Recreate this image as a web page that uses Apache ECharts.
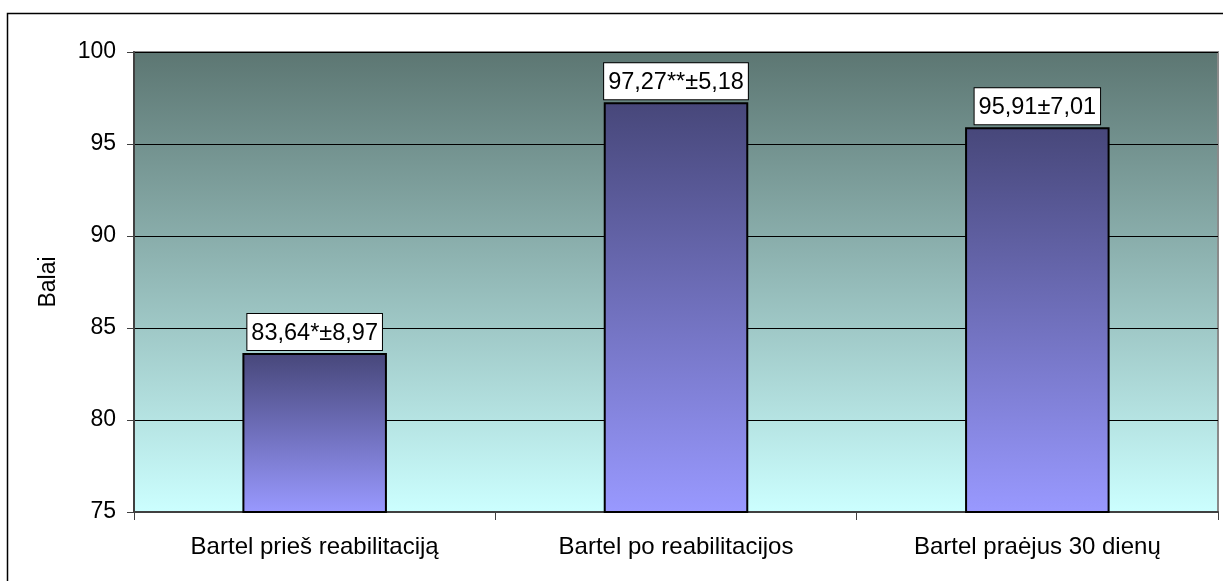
<!DOCTYPE html>
<html>
<head>
<meta charset="utf-8">
<script src="https://cdn.jsdelivr.net/npm/echarts@6/dist/echarts.min.js"></script>
<style>html,body{margin:0;padding:0;background:#fff;}#c{width:1223px;height:581px;}</style>
</head>
<body>
<div id="c"></div>
<script>
const categories = ['Bartel prieš reabilitaciją', 'Bartel po reabilitacijos', 'Bartel praėjus 30 dienų'];
const values = [83.64, 97.27, 95.91];
const valueLabels = ['83,64*±8,97', '97,27**±5,18', '95,91±7,01'];
const yTicks = [75, 80, 85, 90, 95, 100];
const yAxisName = 'Balai';

const chart = echarts.init(document.getElementById('c'));
const FONT = '"Liberation Sans", Arial, sans-serif';
chart.setOption({
  animation: false,
  backgroundColor: '#ffffff',
  graphic: [{
    type: 'rect', silent: true, z: 0,
    shape: { x: 7.5, y: 13.5, width: 1400, height: 800 },
    style: { fill: 'none', stroke: '#000', lineWidth: 1.5 }
  }],
  grid: {
    left: 134, right: 5, top: 52, bottom: 69,
    show: true, borderColor: '#8a8a8a', borderWidth: 2,
    backgroundColor: new echarts.graphic.LinearGradient(0, 0, 0, 1, [
      { offset: 0, color: '#5c7672' },
      { offset: 1, color: '#ccffff' }
    ])
  },
  xAxis: {
    type: 'category',
    data: categories,
    axisLine: { lineStyle: { color: '#404040', width: 2 } },
    axisTick: { show: true, alignWithLabel: false, length: 8, lineStyle: { color: '#404040', width: 1 } },
    axisLabel: { color: '#000', fontFamily: FONT, fontSize: 24, margin: 23 }
  },
  yAxis: {
    type: 'value',
    min: yTicks[0], max: yTicks[yTicks.length - 1], interval: 5,
    name: yAxisName, nameLocation: 'middle', nameGap: 74, nameRotate: 90,
    nameTextStyle: { color: '#000', fontFamily: FONT, fontSize: 23 },
    axisLine: { show: true, lineStyle: { color: '#404040', width: 2 } },
    axisTick: { show: true, length: 7, lineStyle: { color: '#404040', width: 1 } },
    axisLabel: { color: '#000', fontFamily: FONT, fontSize: 23, margin: 18 },
    splitLine: { show: true, lineStyle: { color: '#000', width: 1 } }
  },
  series: [{
    type: 'bar',
    data: values,
    barWidth: '40%',
    itemStyle: {
      color: new echarts.graphic.LinearGradient(0, 0, 0, 1, [
        { offset: 0, color: '#47477a' },
        { offset: 1, color: '#9999ff' }
      ]),
      borderColor: '#000', borderWidth: 2
    },
    label: {
      show: true, position: 'top', distance: 3,
      formatter: p => valueLabels[p.dataIndex],
      color: '#000', fontFamily: FONT, fontSize: 23.5,
      backgroundColor: '#fff', borderColor: '#000', borderWidth: 1,
      padding: [7, 4, 5, 4]
    }
  }]
});
</script>
</body>
</html>
